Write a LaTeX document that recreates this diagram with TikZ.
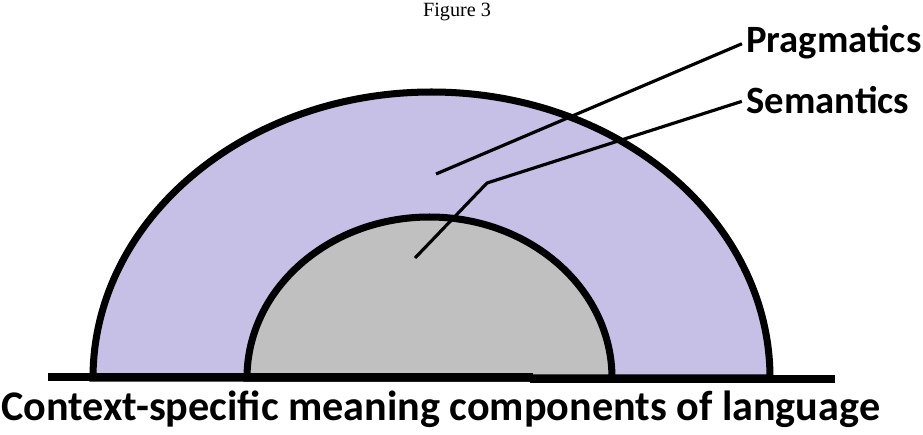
\documentclass[tikz,border=0pt]{standalone}
\usepackage{fontspec}
\setmainfont{Carlito}
\newfontfamily\figfont{Liberation Serif}
\definecolor{lavender}{RGB}{198,191,230}
\definecolor{stone}{RGB}{192,192,192}
\begin{document}
\begin{tikzpicture}[x=0.02cm,y=-0.02cm,
  every node/.style={inner sep=0pt,font=\bfseries\fontsize{22}{26}\selectfont},
  rim/.style={line width=4pt,draw=black},
  leader/.style={line width=1.8pt,draw=black,shorten >=2.5pt}]
  \useasboundingbox (0,0) rectangle (923,434);
  \node[font=\figfont\fontsize{11.5}{13}\selectfont] (fig) at (457,12) {Figure 3};
  \filldraw[fill=lavender,rim] (93,378) arc[start angle=180,end angle=360,x radius=338.5,y radius=286] -- cycle;
  \filldraw[fill=stone,rim] (247,378) arc[start angle=180,end angle=360,x radius=182.5,y radius=161] -- cycle;
  \draw[rim] (48,377) -- (533,377);
  \draw[rim] (530,379) -- (835,379);
  \node[anchor=west] (prag) at (746,42) {Pragmatics};
  \node[anchor=west] (sem) at (746,100) {Semantics};
  \node[anchor=west,font=\bfseries\fontsize{24}{28}\selectfont] (caption) at (1,409) {Context-specific meaning components of language};
  \coordinate (pragpt) at (436,174);
  \coordinate (sempt) at (415,258);
  \coordinate (semkink) at (487,183);
  \draw[leader] (pragpt) -- (prag.west);
  \draw[leader] (sempt) -- (semkink) -- (sem.west);
\end{tikzpicture}
\end{document}
